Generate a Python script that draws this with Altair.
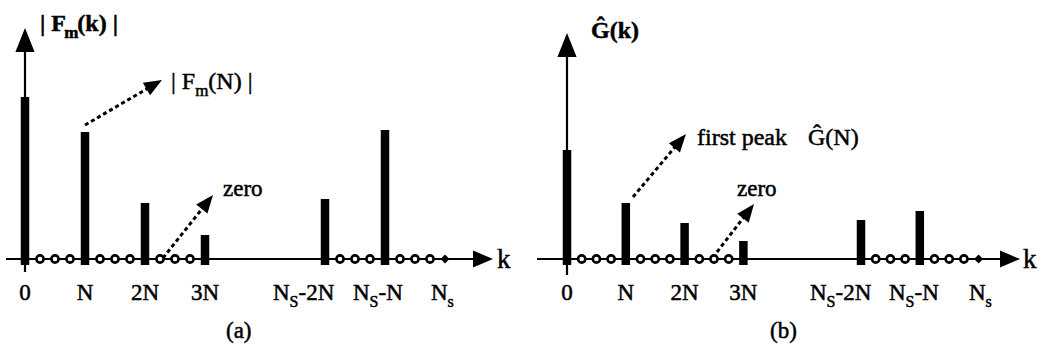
import math
import altair as alt
import pandas as pd

# ---------------- data ----------------
peak_k = [0, 4, 8, 12, 20, 24]
mag_a = [162, 127, 56, 24, 60, 129]
mag_b = [109, 56, 36, 18, 39, 48]
zero_k = [1, 2, 3, 5, 6, 7, 9, 10, 11, 21, 22, 23, 25, 26, 27]
end_k = [28]
tick_k = [0, 4, 8, 12, 20, 24, 28]
tick_main = ["0", "N", "2N", "3N", "N", "N", "N"]
tick_sub = ["", "", "", "", "S", "S", "s"]
tick_tail = ["", "", "", "", "-2N", "-N", ""]

FONT = "Liberation Serif"
H = 352
TS = 23      # tick label size
SS = 16      # subscript size

# Times-like advance widths (per em)
WID = {'0': .5, '1': .5, '2': .5, '3': .5, 'N': .722, 'S': .556, 's': .389, '-': .333,
       'F': .556, 'm': .778, '(': .333, ')': .333, 'k': .5, '|': .2, ' ': .25,
       'G': .722, 'Ĝ': .722, 'z': .444, 'e': .444, 'r': .333, 'o': .5, 'f': .333,
       'i': .278, 't': .278, 'p': .5, 'a': .444, 'b': .5}


def tw(t, size):
    return sum(WID.get(c, .5) for c in t) * size


def make_panel(W, x0, s, base, mags, geo):
    def K(px):
        return (px - x0) / s

    def V(py):
        return base - py

    xs = alt.Scale(domain=[K(0), K(W)], nice=False, zero=False)
    ys = alt.Scale(domain=[V(H), V(0)], nice=False, zero=False)
    X = lambda f: alt.X(f, type="quantitative", scale=xs, axis=None)
    Y = lambda f: alt.Y(f, type="quantitative", scale=ys, axis=None)

    layers = []
    ax = pd.DataFrame({"x": [K(geo["xa_start"])], "x2": [K(geo["xa_end"])], "y": [0], "y2": [0]})
    layers.append(alt.Chart(ax).mark_rule(color="black", strokeWidth=2.2).encode(
        x=X("x"), x2="x2", y=Y("y"), y2="y2"))
    ay = pd.DataFrame({"x": [0], "x2": [0], "y": [V(geo["ya_bottom"])], "y2": [V(geo["ya_top"])]})
    layers.append(alt.Chart(ay).mark_rule(color="black", strokeWidth=2.2).encode(
        x=X("x"), x2="x2", y=Y("y"), y2="y2"))
    bars = pd.DataFrame({"k": peak_k, "lo": [-6] * len(peak_k), "m": mags})
    layers.append(alt.Chart(bars).mark_rule(color="black", strokeWidth=8.5, strokeCap="butt").encode(
        x=X("k"), y=Y("lo"), y2="m"))
    zd = pd.DataFrame({"k": zero_k, "v": [0] * len(zero_k)})
    layers.append(alt.Chart(zd).mark_point(shape="circle", filled=True, fill="white", stroke="black",
                                           strokeWidth=2.6, size=52, opacity=1).encode(x=X("k"), y=Y("v")))
    ed = pd.DataFrame({"k": end_k, "v": [0]})
    layers.append(alt.Chart(ed).mark_point(shape="diamond", filled=True, color="black", size=80,
                                           opacity=1).encode(x=X("k"), y=Y("v")))
    heads = pd.DataFrame({
        "x": [0, K(geo["xh_center"])],
        "y": [V(geo["yh_center"]), 0],
        "shape": ["M0,-1L0.8,1L-0.8,1Z", "M1,0L-1,-0.85L-1,0.85Z"],
        "size": [576, 400],
    })
    layers.append(alt.Chart(heads).mark_point(filled=True, color="black", opacity=1).encode(
        x=X("x"), y=Y("y"), shape=alt.Shape("shape:N", scale=None),
        size=alt.Size("size:Q", scale=None)))
    rows, hrows = [], []
    for (sx, sy, tx, ty) in geo["arrows"]:
        dx, dy = tx - sx, ty - sy
        L = math.hypot(dx, dy)
        ux, uy = dx / L, dy / L
        r = 9
        cx, cy = tx - ux * r, ty - uy * r
        rows.append({"x": K(sx), "y": V(sy), "x2": K(cx), "y2": V(cy)})
        hrows.append({"x": K(cx), "y": V(cy), "ang": math.degrees(math.atan2(dx, -dy))})
    layers.append(alt.Chart(pd.DataFrame(rows)).mark_rule(color="black", strokeWidth=3,
                                                          strokeDash=[4, 3]).encode(
        x=X("x"), y=Y("y"), x2="x2", y2="y2"))
    layers.append(alt.Chart(pd.DataFrame(hrows)).mark_point(
        filled=True, color="black", opacity=1, shape="M0,-1L0.8,1L-0.8,1Z", size=324).encode(
        x=X("x"), y=Y("y"), angle=alt.Angle("ang:Q", scale=None)))

    trows = []

    def seq(pieces, px, py):
        for (t, sz, dy, wt) in pieces:
            trows.append({"t": t, "x": K(px), "y": V(py + dy), "sz": sz, "wt": wt})
            px += tw(t, sz)

    for (pieces, px, py) in geo["labels"]:
        seq(pieces, px, py)
    for i, k in enumerate(tick_k):
        pcs = [(tick_main[i], TS, 0, "normal")]
        if tick_sub[i]:
            pcs.append((tick_sub[i], SS, 7, "normal"))
        if tick_tail[i]:
            pcs.append((tick_tail[i], TS, 0, "normal"))
        if geo["tick_start"][i] is None:
            width = sum(tw(p[0], p[1]) for p in pcs)
            start = x0 + s * k - width / 2
        else:
            start = geo["tick_start"][i]
        seq(pcs, start, geo["tick_base"])
    td = pd.DataFrame(trows)
    for wt in ["normal", "bold"]:
        sub = td[td.wt == wt]
        if len(sub):
            layers.append(alt.Chart(sub).mark_text(font=FONT, align="left", baseline="alphabetic",
                                                   color="black", fontWeight=wt, stroke="black",
                                                   strokeWidth=0.5).encode(
                x=X("x"), y=Y("y"), text="t:N", size=alt.Size("sz:Q", scale=None)))
    return alt.layer(*layers).properties(width=W, height=H)


geo_a = {
    "xa_start": 6, "xa_end": 478, "xh_center": 483,
    "ya_bottom": 272, "ya_top": 45, "yh_center": 40,
    "arrows": [(85, 125, 162, 80), (163, 258, 213, 195)],
    "labels": [
        ([("| F", 24, 0, "bold"), ("m", 17, 7, "bold"), ("(k) |", 24, 0, "bold")], 40, 31),
        ([("| F", 24, 0, "normal"), ("m", 17, 7, "normal"), ("(N) |", 24, 0, "normal")], 171, 89),
        ([("zero", 23, 0, "normal")], 223, 196),
        ([("k", 27, 0, "normal")], 497, 268),
        ([("(a)", 23, 0, "normal")], 226, 338),
    ],
    "tick_base": 300,
    "tick_start": [None, None, None, None, 273, 353, 431],
}
geo_b = {
    "xa_start": 17, "xa_end": 485, "xh_center": 490,
    "ya_bottom": 275, "ya_top": 50, "yh_center": 45,
    "arrows": [(113, 197, 166, 134), (197, 252, 234, 204)],
    "labels": [
        ([("Ĝ(k)", 24, 0, "bold")], 71, 38),
        ([("first peak", 24, 0, "normal")], 177, 145),
        ([("Ĝ(N)", 24, 0, "normal")], 288, 145),
        ([("zero", 23, 0, "normal")], 217, 196),
        ([("k", 27, 0, "normal")], 503, 268),
        ([("(b)", 23, 0, "normal")], 250, 338),
    ],
    "tick_base": 300,
    "tick_start": [None, None, None, None, 290, 369, 449],
}

pa = make_panel(520, 25, 15, 259, mag_a, geo_a)
pb = make_panel(522, 47, 14.7, 259, mag_b, geo_b)

chart = alt.hconcat(pa, pb, spacing=0, bounds="flush").properties(
    padding=0, background="white"
).configure_view(stroke=None, strokeWidth=0)

chart.save("out.html", embed_options={"renderer": "svg", "actions": False})
